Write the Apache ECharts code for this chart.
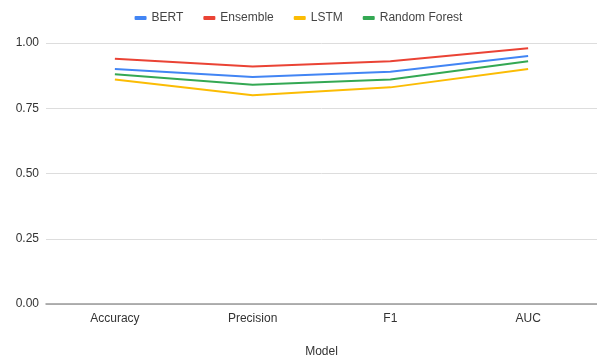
<!DOCTYPE html>
<html>
<head>
<meta charset="utf-8">
<style>
  html, body { margin: 0; padding: 0; background: #fff; }
  #chart { width: 597px; height: 360px; }
</style>
<script src="https://cdn.jsdelivr.net/npm/echarts@6/dist/echarts.min.js"></script>
</head>
<body>
<div id="chart"></div>
<script>
// Metric categories on the x axis
const metrics = ['Accuracy', 'Precision', 'F1', 'AUC'];

// Scores per model
const bert = [0.90, 0.87, 0.89, 0.95];
const ensemble = [0.94, 0.91, 0.93, 0.98];
const lstm = [0.86, 0.80, 0.83, 0.90];
const randomForest = [0.88, 0.84, 0.86, 0.93];

// Y axis ticks
const yTicks = [0, 0.25, 0.5, 0.75, 1];

const fontFamily = 'Arial, "Liberation Sans", sans-serif';

function lineSeries(name, data, color) {
  return {
    name: name,
    type: 'line',
    data: data,
    symbol: 'none',
    lineStyle: { width: 2, color: color },
    itemStyle: { color: color }
  };
}

const chart = echarts.init(document.getElementById('chart'), null, { renderer: 'canvas' });
chart.setOption({
  animation: false,
  textStyle: { fontFamily: fontFamily },
  legend: {
    top: 7,
    left: 'center',
    itemWidth: 12,
    itemHeight: 4,
    itemGap: 20,
    icon: 'roundRect',
    textStyle: { fontSize: 12, color: '#444', fontFamily: fontFamily },
    data: ['BERT', 'Ensemble', 'LSTM', 'Random Forest']
  },
  grid: {
    left: 46, right: 0, top: 43, bottom: 56,
    containLabel: false,
    outerBoundsMode: 'none'
  },
  xAxis: {
    type: 'category',
    data: metrics,
    boundaryGap: true,
    name: 'Model',
    nameLocation: 'middle',
    nameGap: 42,
    nameTextStyle: { fontSize: 12, color: '#333', fontFamily: fontFamily },
    axisLine: { lineStyle: { color: '#999', width: 1.5 } },
    axisTick: { show: false },
    axisLabel: { fontSize: 12, color: '#333', margin: 9, fontFamily: fontFamily }
  },
  yAxis: {
    type: 'value',
    min: yTicks[0],
    max: yTicks[yTicks.length - 1],
    interval: 0.25,
    axisLine: { show: false },
    axisTick: { show: false },
    splitLine: { lineStyle: { color: '#ddd', width: 1 } },
    axisLabel: {
      fontSize: 12,
      color: '#333',
      margin: 7,
      fontFamily: fontFamily,
      formatter: v => v.toFixed(2)
    }
  },
  series: [
    lineSeries('BERT', bert, '#4285F4'),
    lineSeries('Ensemble', ensemble, '#EA4335'),
    lineSeries('LSTM', lstm, '#FBBC04'),
    lineSeries('Random Forest', randomForest, '#34A853')
  ]
});
</script>
</body>
</html>
